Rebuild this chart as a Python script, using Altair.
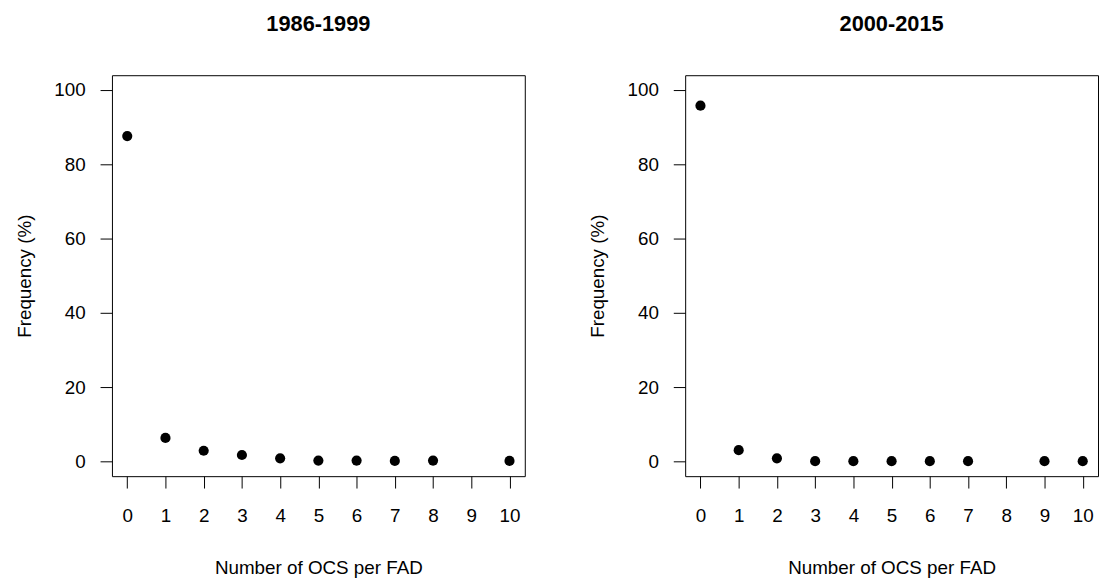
import altair as alt
import pandas as pd

# Panel 1: 1986-1999
x_1986 = [0, 1, 2, 3, 4, 5, 6, 7, 8, 10]
freq_1986 = [87.6, 6.3, 2.85, 1.7, 0.8, 0.2, 0.2, 0.1, 0.2, 0.1]

# Panel 2: 2000-2015
x_2000 = [0, 1, 2, 3, 4, 5, 6, 7, 9, 10]
freq_2000 = [95.8, 3.0, 0.8, 0.05, 0.05, 0.05, 0.05, 0.05, 0.05, 0.05]

x_ticks = list(range(0, 11))
y_ticks = [0, 20, 40, 60, 80, 100]

FONT = "Liberation Sans"


def panel(xs, ys, title):
    df = pd.DataFrame({"n": xs, "freq": ys})
    return (
        alt.Chart(df)
        .mark_circle(size=105, color="black", opacity=1)
        .encode(
            x=alt.X(
                "n:Q",
                scale=alt.Scale(domain=[-0.4, 10.4], nice=False, zero=False),
                axis=alt.Axis(
                    values=x_ticks,
                    title="Number of OCS per FAD",
                    labelPadding=19,
                    titlePadding=33,
                    format="d",
                ),
            ),
            y=alt.Y(
                "freq:Q",
                scale=alt.Scale(domain=[-4, 104], nice=False, zero=False),
                axis=alt.Axis(
                    values=y_ticks,
                    title="Frequency (%)",
                    labelPadding=15,
                    titlePadding=20,
                    format="d",
                ),
            ),
        )
        .properties(
            width=417,
            height=405,
            title=alt.TitleParams(
                title,
                fontSize=22,
                font=FONT,
                fontWeight="bold",
                color="black",
                anchor="middle",
                offset=40,
            ),
        )
    )


left = panel(x_1986, freq_1986, "1986-1999")
right = panel(x_2000, freq_2000, "2000-2015")

chart = (
    alt.hconcat(left, right, spacing=62)
    .properties(padding={"left": 6, "top": 1, "right": 0, "bottom": 0})
    .configure_view(stroke="black", strokeWidth=1)
    .configure_axis(
        domain=False,
        grid=False,
        ticks=True,
        tickSize=12,
        tickColor="black",
        tickWidth=1,
        labelFont=FONT,
        labelFontSize=19,
        labelColor="black",
        titleFont=FONT,
        titleFontSize=19,
        titleFontWeight="normal",
        titleColor="black",
    )
)

chart.save("out.html", embed_options={"renderer": "svg", "actions": False})
